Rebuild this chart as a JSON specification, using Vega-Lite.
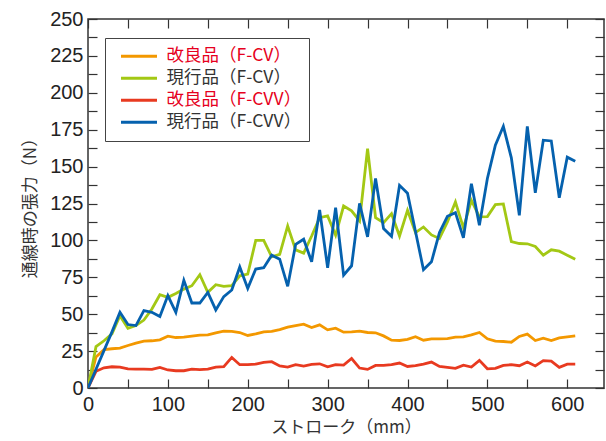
{
"$schema": "https://vega.github.io/schema/vega-lite/v6.json",
"width": 516, "height": 369,
"autosize": {"type": "none"},
"padding": {"left": 88, "top": 19, "right": 2, "bottom": 53},
"background": "white",
"config": {
  "view": {"stroke": "#333", "strokeWidth": 1.5},
  "axis": {"grid": false, "domain": false, "tickColor": "#333", "tickWidth": 1.2, "tickSize": -9, "labelFont": "Liberation Sans", "labelFontSize": 20, "labelColor": "#222", "titleFont": "Noto Sans CJK JP", "titleFontSize": 17, "titleColor": "#333", "titleFontWeight": "normal"}
},
"data": {"values": [
{"x":0,"s":"改良品（F-CV）","y":0},{"x":10,"s":"改良品（F-CV）","y":21},{"x":20,"s":"改良品（F-CV）","y":26},{"x":30,"s":"改良品（F-CV）","y":26.6},{"x":40,"s":"改良品（F-CV）","y":27},{"x":50,"s":"改良品（F-CV）","y":28.8},{"x":60,"s":"改良品（F-CV）","y":30.4},{"x":70,"s":"改良品（F-CV）","y":31.7},{"x":80,"s":"改良品（F-CV）","y":32},{"x":90,"s":"改良品（F-CV）","y":32.6},{"x":100,"s":"改良品（F-CV）","y":35.1},{"x":110,"s":"改良品（F-CV）","y":34.2},{"x":120,"s":"改良品（F-CV）","y":34.4},{"x":130,"s":"改良品（F-CV）","y":35.1},{"x":140,"s":"改良品（F-CV）","y":35.8},{"x":150,"s":"改良品（F-CV）","y":36},{"x":160,"s":"改良品（F-CV）","y":37.4},{"x":170,"s":"改良品（F-CV）","y":38.5},{"x":180,"s":"改良品（F-CV）","y":38.3},{"x":190,"s":"改良品（F-CV）","y":37.6},{"x":200,"s":"改良品（F-CV）","y":35.6},{"x":210,"s":"改良品（F-CV）","y":36.7},{"x":220,"s":"改良品（F-CV）","y":38},{"x":230,"s":"改良品（F-CV）","y":38.3},{"x":240,"s":"改良品（F-CV）","y":39.6},{"x":250,"s":"改良品（F-CV）","y":41.2},{"x":260,"s":"改良品（F-CV）","y":42.3},{"x":270,"s":"改良品（F-CV）","y":43.2},{"x":280,"s":"改良品（F-CV）","y":41},{"x":290,"s":"改良品（F-CV）","y":42.8},{"x":300,"s":"改良品（F-CV）","y":39.4},{"x":310,"s":"改良品（F-CV）","y":40.5},{"x":320,"s":"改良品（F-CV）","y":37.8},{"x":330,"s":"改良品（F-CV）","y":38},{"x":340,"s":"改良品（F-CV）","y":38.5},{"x":350,"s":"改良品（F-CV）","y":37.6},{"x":360,"s":"改良品（F-CV）","y":37.4},{"x":370,"s":"改良品（F-CV）","y":35.3},{"x":380,"s":"改良品（F-CV）","y":32.4},{"x":390,"s":"改良品（F-CV）","y":32.2},{"x":400,"s":"改良品（F-CV）","y":32.9},{"x":410,"s":"改良品（F-CV）","y":34.7},{"x":420,"s":"改良品（F-CV）","y":32.4},{"x":430,"s":"改良品（F-CV）","y":33.3},{"x":440,"s":"改良品（F-CV）","y":33.3},{"x":450,"s":"改良品（F-CV）","y":33.5},{"x":460,"s":"改良品（F-CV）","y":34.4},{"x":470,"s":"改良品（F-CV）","y":34.7},{"x":480,"s":"改良品（F-CV）","y":36},{"x":490,"s":"改良品（F-CV）","y":37.6},{"x":500,"s":"改良品（F-CV）","y":33.3},{"x":510,"s":"改良品（F-CV）","y":31.7},{"x":520,"s":"改良品（F-CV）","y":31.5},{"x":530,"s":"改良品（F-CV）","y":31},{"x":540,"s":"改良品（F-CV）","y":34.9},{"x":550,"s":"改良品（F-CV）","y":36.5},{"x":560,"s":"改良品（F-CV）","y":32.2},{"x":570,"s":"改良品（F-CV）","y":33.8},{"x":580,"s":"改良品（F-CV）","y":32.2},{"x":590,"s":"改良品（F-CV）","y":34},{"x":600,"s":"改良品（F-CV）","y":34.7},{"x":610,"s":"改良品（F-CV）","y":35.3},
{"x":0,"s":"現行品（F-CV）","y":0},{"x":10,"s":"現行品（F-CV）","y":28},{"x":20,"s":"現行品（F-CV）","y":32},{"x":30,"s":"現行品（F-CV）","y":36.7},{"x":40,"s":"現行品（F-CV）","y":49},{"x":50,"s":"現行品（F-CV）","y":40.5},{"x":60,"s":"現行品（F-CV）","y":42.3},{"x":70,"s":"現行品（F-CV）","y":46},{"x":80,"s":"現行品（F-CV）","y":53.5},{"x":90,"s":"現行品（F-CV）","y":63.2},{"x":100,"s":"現行品（F-CV）","y":61.4},{"x":110,"s":"現行品（F-CV）","y":64},{"x":120,"s":"現行品（F-CV）","y":67},{"x":130,"s":"現行品（F-CV）","y":69.3},{"x":140,"s":"現行品（F-CV）","y":76.7},{"x":150,"s":"現行品（F-CV）","y":64.8},{"x":160,"s":"現行品（F-CV）","y":70},{"x":170,"s":"現行品（F-CV）","y":68.9},{"x":180,"s":"現行品（F-CV）","y":69.3},{"x":190,"s":"現行品（F-CV）","y":76},{"x":200,"s":"現行品（F-CV）","y":77.2},{"x":210,"s":"現行品（F-CV）","y":100},{"x":220,"s":"現行品（F-CV）","y":100},{"x":230,"s":"現行品（F-CV）","y":88.9},{"x":240,"s":"現行品（F-CV）","y":90.5},{"x":250,"s":"現行品（F-CV）","y":109.8},{"x":260,"s":"現行品（F-CV）","y":93.6},{"x":270,"s":"現行品（F-CV）","y":91.4},{"x":280,"s":"現行品（F-CV）","y":103},{"x":290,"s":"現行品（F-CV）","y":115.4},{"x":300,"s":"現行品（F-CV）","y":116.6},{"x":310,"s":"現行品（F-CV）","y":103.5},{"x":320,"s":"現行品（F-CV）","y":123.3},{"x":330,"s":"現行品（F-CV）","y":120},{"x":340,"s":"現行品（F-CV）","y":113.2},{"x":350,"s":"現行品（F-CV）","y":162.2},{"x":360,"s":"現行品（F-CV）","y":115.4},{"x":370,"s":"現行品（F-CV）","y":112},{"x":380,"s":"現行品（F-CV）","y":118.1},{"x":390,"s":"現行品（F-CV）","y":103},{"x":400,"s":"現行品（F-CV）","y":120.4},{"x":410,"s":"現行品（F-CV）","y":105.3},{"x":420,"s":"現行品（F-CV）","y":109.1},{"x":430,"s":"現行品（F-CV）","y":103.7},{"x":440,"s":"現行品（F-CV）","y":101.3},{"x":450,"s":"現行品（F-CV）","y":112.5},{"x":460,"s":"現行品（F-CV）","y":126},{"x":470,"s":"現行品（F-CV）","y":108.5},{"x":480,"s":"現行品（F-CV）","y":127.1},{"x":490,"s":"現行品（F-CV）","y":115.9},{"x":500,"s":"現行品（F-CV）","y":116.1},{"x":510,"s":"現行品（F-CV）","y":124.2},{"x":520,"s":"現行品（F-CV）","y":124.7},{"x":530,"s":"現行品（F-CV）","y":99.2},{"x":540,"s":"現行品（F-CV）","y":97.9},{"x":550,"s":"現行品（F-CV）","y":97.7},{"x":560,"s":"現行品（F-CV）","y":95.9},{"x":570,"s":"現行品（F-CV）","y":90},{"x":580,"s":"現行品（F-CV）","y":93.6},{"x":590,"s":"現行品（F-CV）","y":92.7},{"x":600,"s":"現行品（F-CV）","y":90},{"x":610,"s":"現行品（F-CV）","y":87.3},
{"x":0,"s":"改良品（F-CVV）","y":0},{"x":10,"s":"改良品（F-CVV）","y":11.3},{"x":20,"s":"改良品（F-CVV）","y":13.7},{"x":30,"s":"改良品（F-CVV）","y":14.4},{"x":40,"s":"改良品（F-CVV）","y":14.2},{"x":50,"s":"改良品（F-CVV）","y":13},{"x":60,"s":"改良品（F-CVV）","y":12.8},{"x":70,"s":"改良品（F-CVV）","y":12.8},{"x":80,"s":"改良品（F-CVV）","y":12.6},{"x":90,"s":"改良品（F-CVV）","y":14},{"x":100,"s":"改良品（F-CVV）","y":12.2},{"x":110,"s":"改良品（F-CVV）","y":11.7},{"x":120,"s":"改良品（F-CVV）","y":11.7},{"x":130,"s":"改良品（F-CVV）","y":12.8},{"x":140,"s":"改良品（F-CVV）","y":12.4},{"x":150,"s":"改良品（F-CVV）","y":12.8},{"x":160,"s":"改良品（F-CVV）","y":14.2},{"x":170,"s":"改良品（F-CVV）","y":14.4},{"x":180,"s":"改良品（F-CVV）","y":20.7},{"x":190,"s":"改良品（F-CVV）","y":15.8},{"x":200,"s":"改良品（F-CVV）","y":15.8},{"x":210,"s":"改良品（F-CVV）","y":16.2},{"x":220,"s":"改良品（F-CVV）","y":17.3},{"x":230,"s":"改良品（F-CVV）","y":17.8},{"x":240,"s":"改良品（F-CVV）","y":14.9},{"x":250,"s":"改良品（F-CVV）","y":14.2},{"x":260,"s":"改良品（F-CVV）","y":15.8},{"x":270,"s":"改良品（F-CVV）","y":14.9},{"x":280,"s":"改良品（F-CVV）","y":16},{"x":290,"s":"改良品（F-CVV）","y":16.4},{"x":300,"s":"改良品（F-CVV）","y":14.4},{"x":310,"s":"改良品（F-CVV）","y":15.8},{"x":320,"s":"改良品（F-CVV）","y":15.5},{"x":330,"s":"改良品（F-CVV）","y":20},{"x":340,"s":"改良品（F-CVV）","y":13.5},{"x":350,"s":"改良品（F-CVV）","y":12.6},{"x":360,"s":"改良品（F-CVV）","y":15.3},{"x":370,"s":"改良品（F-CVV）","y":15.3},{"x":380,"s":"改良品（F-CVV）","y":15.8},{"x":390,"s":"改良品（F-CVV）","y":16.9},{"x":400,"s":"改良品（F-CVV）","y":14.6},{"x":410,"s":"改良品（F-CVV）","y":15.1},{"x":420,"s":"改良品（F-CVV）","y":16.2},{"x":430,"s":"改良品（F-CVV）","y":17.6},{"x":440,"s":"改良品（F-CVV）","y":14.6},{"x":450,"s":"改良品（F-CVV）","y":14},{"x":460,"s":"改良品（F-CVV）","y":13.3},{"x":470,"s":"改良品（F-CVV）","y":15.5},{"x":480,"s":"改良品（F-CVV）","y":14.2},{"x":490,"s":"改良品（F-CVV）","y":18.7},{"x":500,"s":"改良品（F-CVV）","y":13},{"x":510,"s":"改良品（F-CVV）","y":13.3},{"x":520,"s":"改良品（F-CVV）","y":15.3},{"x":530,"s":"改良品（F-CVV）","y":15.8},{"x":540,"s":"改良品（F-CVV）","y":15.1},{"x":550,"s":"改良品（F-CVV）","y":17.6},{"x":560,"s":"改良品（F-CVV）","y":14.9},{"x":570,"s":"改良品（F-CVV）","y":18.5},{"x":580,"s":"改良品（F-CVV）","y":18.2},{"x":590,"s":"改良品（F-CVV）","y":14},{"x":600,"s":"改良品（F-CVV）","y":16.2},{"x":610,"s":"改良品（F-CVV）","y":16.2},
{"x":0,"s":"現行品（F-CVV）","y":0},{"x":10,"s":"現行品（F-CVV）","y":12.7},{"x":20,"s":"現行品（F-CVV）","y":25.3},{"x":30,"s":"現行品（F-CVV）","y":38},{"x":40,"s":"現行品（F-CVV）","y":51.3},{"x":50,"s":"現行品（F-CVV）","y":43},{"x":60,"s":"現行品（F-CVV）","y":42.3},{"x":70,"s":"現行品（F-CVV）","y":52.4},{"x":80,"s":"現行品（F-CVV）","y":51.3},{"x":90,"s":"現行品（F-CVV）","y":48.4},{"x":100,"s":"現行品（F-CVV）","y":62.6},{"x":110,"s":"現行品（F-CVV）","y":51.3},{"x":120,"s":"現行品（F-CVV）","y":73},{"x":130,"s":"現行品（F-CVV）","y":57.6},{"x":140,"s":"現行品（F-CVV）","y":57.6},{"x":150,"s":"現行品（F-CVV）","y":64.8},{"x":160,"s":"現行品（F-CVV）","y":52.9},{"x":170,"s":"現行品（F-CVV）","y":61.9},{"x":180,"s":"現行品（F-CVV）","y":66.4},{"x":190,"s":"現行品（F-CVV）","y":82},{"x":200,"s":"現行品（F-CVV）","y":67.5},{"x":210,"s":"現行品（F-CVV）","y":80.6},{"x":220,"s":"現行品（F-CVV）","y":81.5},{"x":230,"s":"現行品（F-CVV）","y":90},{"x":240,"s":"現行品（F-CVV）","y":87.3},{"x":250,"s":"現行品（F-CVV）","y":68.9},{"x":260,"s":"現行品（F-CVV）","y":97.4},{"x":270,"s":"現行品（F-CVV）","y":100.8},{"x":280,"s":"現行品（F-CVV）","y":85.5},{"x":290,"s":"現行品（F-CVV）","y":120.6},{"x":300,"s":"現行品（F-CVV）","y":81.5},{"x":310,"s":"現行品（F-CVV）","y":122.2},{"x":320,"s":"現行品（F-CVV）","y":76.5},{"x":330,"s":"現行品（F-CVV）","y":82.8},{"x":340,"s":"現行品（F-CVV）","y":125.1},{"x":350,"s":"現行品（F-CVV）","y":102.4},{"x":360,"s":"現行品（F-CVV）","y":142},{"x":370,"s":"現行品（F-CVV）","y":108},{"x":380,"s":"現行品（F-CVV）","y":102.8},{"x":390,"s":"現行品（F-CVV）","y":137.3},{"x":400,"s":"現行品（F-CVV）","y":131.9},{"x":410,"s":"現行品（F-CVV）","y":106},{"x":420,"s":"現行品（F-CVV）","y":80.1},{"x":430,"s":"現行品（F-CVV）","y":85.5},{"x":440,"s":"現行品（F-CVV）","y":105.3},{"x":450,"s":"現行品（F-CVV）","y":116.3},{"x":460,"s":"現行品（F-CVV）","y":118.8},{"x":470,"s":"現行品（F-CVV）","y":101.7},{"x":480,"s":"現行品（F-CVV）","y":138.4},{"x":490,"s":"現行品（F-CVV）","y":110.3},{"x":500,"s":"現行品（F-CVV）","y":142},{"x":510,"s":"現行品（F-CVV）","y":164.5},{"x":520,"s":"現行品（F-CVV）","y":177.3},{"x":530,"s":"現行品（F-CVV）","y":155.9},{"x":540,"s":"現行品（F-CVV）","y":117},{"x":550,"s":"現行品（F-CVV）","y":177.3},{"x":560,"s":"現行品（F-CVV）","y":132.3},{"x":570,"s":"現行品（F-CVV）","y":167.9},{"x":580,"s":"現行品（F-CVV）","y":167.4},{"x":590,"s":"現行品（F-CVV）","y":128.9},{"x":600,"s":"現行品（F-CVV）","y":156.4},{"x":610,"s":"現行品（F-CVV）","y":153.7}
]},
"layer": [
  {
    "mark": {"type": "line", "strokeWidth": 2.8, "clip": true},
    "encoding": {
      "x": {"field": "x", "type": "quantitative", "scale": {"domain": [0, 646], "nice": false, "zero": false},
        "axis": {"orient": "bottom", "values": [0,50,100,150,200,250,300,350,400,450,500,550,600], "labelExpr": "datum.value % 100 === 0 ? datum.label : ''", "labelPadding": 15, "labelFlush": false, "title": "ストローク（mm）", "titlePadding": 5}},
      "y": {"field": "y", "type": "quantitative", "scale": {"domain": [0, 250], "nice": false},
        "axis": {"orient": "left", "values": [0,12.5,25,37.5,50,62.5,75,87.5,100,112.5,125,137.5,150,162.5,175,187.5,200,212.5,225,237.5,250], "labelExpr": "datum.value % 25 === 0 ? format(datum.value, 'd') : ''", "labelPadding": 14, "labelFlush": false, "title": "通線時の張力（N）", "titlePadding": 10}},
      "color": {"field": "s", "type": "nominal",
        "scale": {"domain": ["改良品（F-CV）", "現行品（F-CV）", "改良品（F-CVV）", "現行品（F-CVV）"], "range": ["#f39800", "#a3c814", "#e83a20", "#0561ae"]},
        "legend": {"title": null, "orient": "none", "legendX": 17, "legendY": 19, "symbolType": "stroke", "symbolSize": 1296, "symbolStrokeWidth": 3, "clipHeight": 21.3, "rowPadding": 0, "padding": 7.5, "symbolOffset": 7, "labelOffset": 8, "labelFont": "Noto Sans CJK JP", "labelFontSize": 17.5, "labelLimit": 300, "strokeColor": "#444", "fillColor": "white",
          "encode": {"labels": {"update": {"fill": [{"test": "indexof(datum.label, '改良') >= 0", "value": "#e60020"}, {"value": "#333"}]}}}}
      }
    }
  },
  {
    "mark": {"type": "point", "opacity": 0},
    "encoding": {
      "x": {"field": "x", "type": "quantitative", "axis": {"orient": "top", "values": [0,50,100,150,200,250,300,350,400,450,500,550,600], "labels": false, "title": null}},
      "y": {"field": "y", "type": "quantitative", "axis": {"orient": "right", "values": [0,12.5,25,37.5,50,62.5,75,87.5,100,112.5,125,137.5,150,162.5,175,187.5,200,212.5,225,237.5,250], "labels": false, "title": null}}
    }
  }
],
"resolve": {"axis": {"x": "independent", "y": "independent"}}
}
